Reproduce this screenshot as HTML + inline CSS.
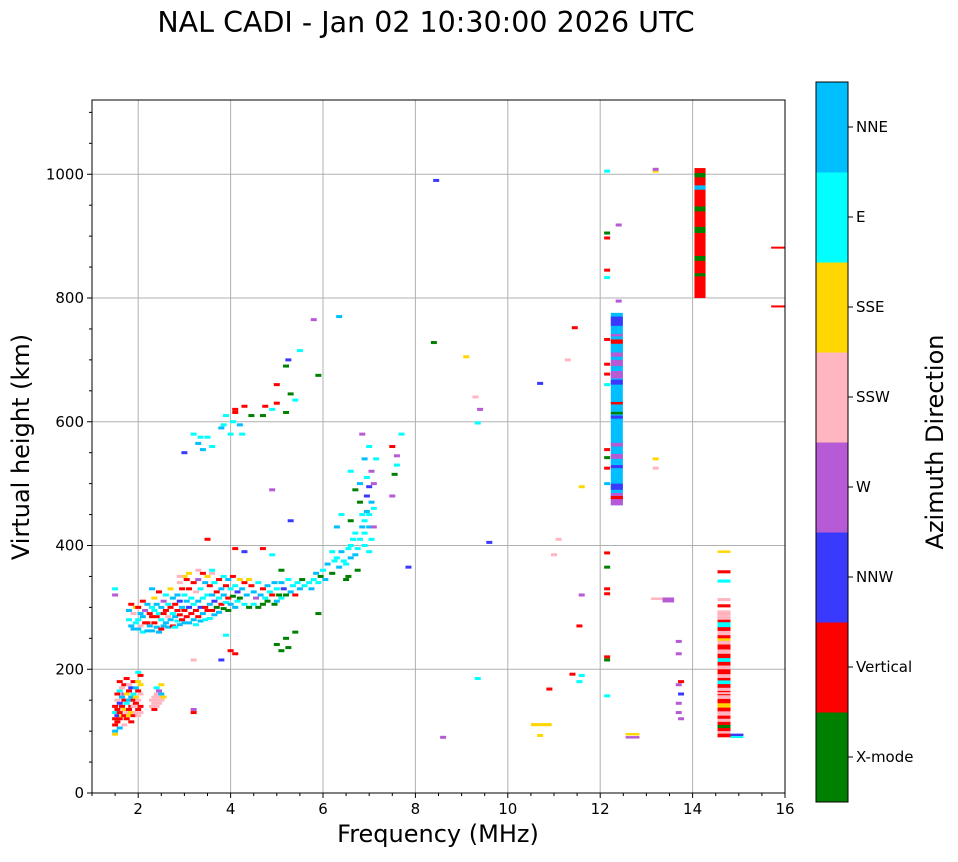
<!DOCTYPE html>
<html><head><meta charset="utf-8"><style>
body{margin:0;background:#fff;}
svg text{font-family:"DejaVu Sans","Liberation Sans",sans-serif;}
</style></head><body>
<svg id="chart" width="958" height="857" xmlns="http://www.w3.org/2000/svg">
<text x="426" y="32" font-size="28.5" text-anchor="middle">NAL CADI - Jan 02 10:30:00 2026 UTC</text>
<g id="grid"></g>
<g id="marks"></g>
<g id="axes"></g>
<g id="cbar"></g>
</svg>
<script>
const directions=["X-mode","Vertical","NNW","W","SSW","SSE","E","NNE"];
const dirColors=["#008000","#ff0000","#3a3aff","#b65ad6","#ffb6c1","#ffd700","#00ffff","#00bfff"];
const xTicks=[2,4,6,8,10,12,14,16];
const yTicks=[0,200,400,600,800,1000];
// echoes: [freq MHz, height km, direction index]
const echoes=[
[1.5,95,5],[1.5,100,7],[1.5,110,1],[1.5,120,1],[1.5,130,6],[1.5,140,1],
[1.55,115,1],[1.55,125,2],[1.55,135,1],[1.55,150,4],[1.55,160,1],
[1.6,105,7],[1.6,120,1],[1.6,130,1],[1.6,145,2],[1.6,165,6],[1.6,180,1],
[1.65,125,5],[1.65,140,1],[1.65,155,7],[1.65,170,4],
[1.7,110,4],[1.7,125,1],[1.7,135,5],[1.7,150,1],[1.7,160,3],[1.7,175,1],
[1.75,120,1],[1.75,130,4],[1.75,145,6],[1.75,160,5],[1.75,185,1],
[1.8,125,5],[1.8,135,1],[1.8,150,7],[1.8,165,1],[1.8,175,4],
[1.85,115,1],[1.85,130,5],[1.85,140,1],[1.85,155,7],[1.85,170,2],
[1.9,125,1],[1.9,140,4],[1.9,150,1],[1.9,160,6],[1.9,180,1],
[1.95,130,4],[1.95,145,1],[1.95,155,5],[1.95,170,7],
[2.0,125,4],[2.0,135,1],[2.0,150,4],[2.0,165,1],[2.0,180,5],[2.0,195,6],
[2.05,130,4],[2.05,140,1],[2.05,160,4],[2.05,175,5],[2.05,190,1],
[2.3,140,4],[2.3,150,4],[2.35,135,1],[2.35,145,4],[2.35,155,4],[2.4,140,4],[2.4,150,4],[2.4,160,4],[2.4,170,6],[2.45,145,4],[2.45,155,4],[2.45,165,3],[2.5,150,4],[2.5,160,7],[2.5,175,5],[2.55,155,5],[3.2,130,1],[3.2,135,3],
[1.8,295,7],[1.8,280,6],[1.85,270,7],[1.85,305,1],[1.9,290,4],[1.9,265,7],[1.95,300,5],[1.95,275,6],
[2.0,300,1],[2.0,280,6],[2.0,265,7],[2.05,290,7],[2.05,270,4],[2.1,310,1],[2.1,285,7],[2.1,260,6],[2.15,295,3],[2.15,275,1],[2.2,305,7],[2.2,275,1],[2.2,262,7],
[2.25,290,1],[2.25,270,7],[2.3,300,6],[2.3,285,1],[2.3,262,7],[2.35,315,5],[2.35,295,6],[2.35,275,1],[2.4,305,7],[2.4,285,1],[2.4,268,7],[2.45,325,1],[2.45,290,6],[2.45,260,7],
[2.5,300,7],[2.5,280,6],[2.5,265,1],[2.55,310,3],[2.55,290,1],[2.55,270,7],[2.6,320,6],[2.6,295,1],[2.6,275,7],[2.65,305,6],[2.65,285,4],[2.65,268,7],[2.7,330,5],[2.7,300,1],[2.7,280,7],
[2.75,315,7],[2.75,290,6],[2.75,270,1],[2.8,305,1],[2.8,285,7],[2.8,268,6],[2.85,320,7],[2.85,295,1],[2.85,278,6],[2.9,340,4],[2.9,310,2],[2.9,288,1],[2.9,272,7],[2.95,330,1],[2.95,300,7],[2.95,280,1],
[3.0,350,5],[3.0,320,6],[3.0,295,1],[3.0,275,7],[3.05,345,1],[3.05,310,7],[3.05,285,1],[3.1,330,1],[3.1,300,2],[3.1,275,7],[3.15,315,6],[3.15,290,1],[3.2,340,1],[3.2,305,6],[3.2,280,7],
[3.25,325,4],[3.25,295,1],[3.25,272,6],[3.3,345,3],[3.3,310,7],[3.3,285,1],[3.35,330,6],[3.35,300,2],[3.35,278,7],[3.4,355,1],[3.4,315,6],[3.4,290,7],[3.45,340,7],[3.45,300,1],[3.45,280,6],
[3.5,350,5],[3.5,320,6],[3.5,295,1],[3.55,335,1],[3.55,305,7],[3.55,282,6],[3.6,355,4],[3.6,320,7],[3.6,295,1],[3.65,340,6],[3.65,310,2],[3.65,288,7],[3.7,325,1],[3.7,300,0],
[3.75,345,1],[3.75,315,6],[3.75,292,7],[3.8,330,7],[3.8,305,1],[3.85,350,6],[3.85,320,7],[3.85,298,0],[3.9,335,1],[3.9,308,6],[3.95,345,7],[3.95,315,1],[3.95,295,0],
[4.0,330,6],[4.0,305,7],[4.05,350,1],[4.05,318,0],[4.1,335,6],[4.1,300,7],[4.15,325,2],[4.15,310,6],[4.2,345,5],[4.2,315,0],[4.25,330,7],[4.3,340,1],[4.3,305,6],[4.35,320,7],[4.4,345,6],[4.4,300,0],
[4.45,335,1],[4.5,325,7],[4.5,305,6],[4.55,315,3],[4.6,340,6],[4.6,300,0],[4.65,320,7],[4.7,330,1],[4.7,305,0],[4.75,315,6],[4.8,335,7],[4.8,310,0],[4.85,325,6],[4.9,320,1],[4.95,340,7],[4.95,305,0],
[5.0,330,6],[5.0,310,7],[5.05,320,0],[5.1,340,7],[5.1,315,6],[5.15,330,2],[5.2,320,0],[5.25,345,6],[5.3,325,7],[5.35,335,6],[5.4,320,1],[5.45,340,6],[5.5,330,7],[5.55,345,0],[5.6,335,6],
[5.7,340,6],[5.75,330,7],[5.8,345,6],[5.85,355,7],[5.9,340,6],[5.95,350,0],
[3.5,410,1],[3.1,355,5],[3.3,360,4],[3.6,360,6],[4.1,395,1],[4.3,390,2],[4.4,345,5],[4.7,395,1],[4.9,385,6],[5.1,360,0],[5.0,240,0],[5.2,250,0],[5.4,260,0],[5.25,235,0],[5.1,230,0],[4.0,230,1],[4.1,225,1],[3.9,255,6],[3.2,215,4],[3.8,215,2],[2.3,330,7],[2.9,350,4],[4.9,490,3],[5.3,440,2],[1.5,330,6],[1.5,320,3],
[6.0,360,6],[6.05,345,7],[6.1,370,7],[6.2,355,0],[6.25,375,6],[6.3,380,6],[6.35,365,7],[6.4,390,7],[6.45,375,6],[6.5,345,0],[6.55,395,6],[6.6,400,6],[6.6,380,7],[6.65,410,6],[6.7,385,7],[6.7,420,6],[6.75,395,6],[6.8,410,6],[6.85,430,7],[6.9,420,6],[6.9,440,6],[6.95,455,7],[7.0,430,7],[7.0,450,6],[7.05,470,7],[7.0,495,2],[6.95,510,6],[6.9,540,7],[7.0,560,6],[6.85,580,3],[7.1,500,3],[7.15,540,6],[6.8,470,0],[6.6,440,0],[6.4,450,6],[6.6,520,6],[6.7,490,0],[6.3,430,7],[6.9,400,6],[7.0,390,6],[6.5,370,6],[6.2,390,6],[5.9,290,0],[6.8,500,7],[7.05,520,3],[7.1,460,6],[6.95,480,2],[6.85,450,6],[7.05,410,6],[7.1,430,3],[6.75,360,0],[6.55,350,0],[7.5,560,1],[7.6,530,6],[7.7,580,6],[7.85,365,2],[7.5,480,3],[7.6,545,3],[7.55,515,0],
[3.2,580,6],[3.3,565,7],[3.35,575,6],[3.5,575,6],[3.6,560,6],[3.8,590,7],[3.85,595,6],[3.9,610,6],[4.0,580,6],[4.05,600,6],[4.1,615,1],[4.2,595,7],[4.25,580,6],[4.3,625,1],[4.45,610,0],[4.7,610,0],[4.75,625,1],[4.9,620,6],[5.0,630,1],[5.2,615,0],[5.3,645,0],[5.4,635,6],[5.0,660,1],[5.2,690,0],[5.25,700,2],[5.5,715,6],[5.8,765,3],[6.35,770,7],[5.9,675,0],[3.0,550,2],[3.4,555,7],[4.1,620,1],
[8.4,728,0],[8.45,990,2],[8.6,90,3],[9.1,705,5],[9.3,640,4],[9.4,620,3],[9.35,598,6],[9.35,185,6],[9.6,405,2],[10.7,93,5],[10.7,662,2],[10.9,168,1],[11.1,410,4],[11.0,385,4],[11.3,700,4],[11.4,192,1],[11.45,752,1],[11.6,495,5],[11.6,320,3],[11.55,270,1],[11.6,190,6],[11.55,180,6],[13.2,1005,5],[13.2,1008,3],[13.2,540,5],[13.2,525,4],[13.7,245,3],[13.7,225,3],[13.75,180,1],[13.7,175,3],[13.75,160,2],[13.7,145,3],[13.7,130,3],[13.75,120,3],
[12.15,1005,6],[12.15,905,0],[12.15,897,1],[12.15,845,1],[12.15,833,6],[12.15,733,1],[12.15,693,1],[12.15,677,1],[12.15,660,6],[12.15,555,1],[12.15,542,0],[12.15,525,1],[12.15,500,7],[12.15,388,1],[12.15,365,0],[12.15,330,1],[12.15,322,1],[12.15,220,1],[12.15,215,0],[12.15,157,6],[12.4,918,3],[12.4,795,3]
];
// column segments: [freq0, freq1, h0, h1, direction index]
const columns=[
[12.23,12.49,465,776,7],
[12.23,12.49,755,770,2],[12.23,12.49,738,742,3],[12.23,12.49,726,733,1],[12.23,12.49,712,725,7],[12.23,12.49,705,712,3],
[12.23,12.49,690,700,3],[12.23,12.49,670,682,3],[12.23,12.49,660,668,2],[12.23,12.49,628,632,1],[12.23,12.49,612,616,0],[12.23,12.49,605,610,2],
[12.23,12.49,560,566,3],[12.23,12.49,540,548,3],[12.23,12.49,525,530,2],[12.23,12.49,490,500,2],[12.23,12.49,465,485,3],[12.23,12.49,475,480,1],
[14.04,14.28,800,1010,1],[14.04,14.28,940,948,0],[14.04,14.28,905,915,0],[14.04,14.28,860,868,0],[14.04,14.28,995,1002,0],[14.04,14.28,975,982,7],[14.04,14.28,835,840,0],
[14.54,14.82,388,392,5],[14.54,14.82,355,360,1],[14.54,14.82,340,345,6],[14.54,14.82,310,315,4],[14.54,14.82,300,305,1],[14.54,14.82,90,295,1],
[14.54,14.82,280,290,4],[14.54,14.82,268,276,6],[14.54,14.82,255,262,4],[14.54,14.82,240,248,4],[14.54,14.82,225,232,4],[14.54,14.82,212,218,6],[14.54,14.82,200,206,4],[14.54,14.82,186,192,4],[14.54,14.82,165,170,4],[14.54,14.82,152,158,4],[14.54,14.82,138,145,5],[14.54,14.82,125,132,4],[14.54,14.82,105,110,0],[14.54,14.82,96,100,4],
[14.54,14.82,290,295,4],[14.54,14.82,246,250,5],[14.54,14.82,176,182,6],[14.54,14.82,160,163,4],[14.54,14.82,115,120,4],
[14.82,15.1,92,96,2],[14.82,15.1,90,92,6],[15.7,16,880,883,1],[15.7,16,785,788,1],
[10.5,10.95,108,113,5],[13.1,13.35,312,316,4],[13.35,13.6,308,316,3],[12.55,12.85,93,97,5],[12.55,12.85,88,92,3]
];
const X0=92,X1=785,Y0=793,Y1=100,FMIN=1,FMAX=16,HMIN=0,HMAX=1120;
const xs=f=>X0+(f-FMIN)/(FMAX-FMIN)*(X1-X0);
const ys=h=>Y0-(h-HMIN)/(HMAX-HMIN)*(Y0-Y1);
const NS="http://www.w3.org/2000/svg";
function mk(tag,attrs,parent){const e=document.createElementNS(NS,tag);for(const k in attrs)e.setAttribute(k,attrs[k]);parent.appendChild(e);return e;}
const grid=document.getElementById('grid'),marks=document.getElementById('marks'),axes=document.getElementById('axes'),cbar=document.getElementById('cbar');
xTicks.forEach(t=>{if(t<FMAX){const l=mk('line',{x1:xs(t),x2:xs(t),y1:Y1,y2:Y0,stroke:'#b0b0b0','stroke-width':1},grid);

}});
yTicks.forEach(t=>{if(t>0){const l=mk('line',{x1:X0,x2:X1,y1:ys(t),y2:ys(t),stroke:'#b0b0b0','stroke-width':1},grid);

}});
columns.forEach(c=>{const r=mk('rect',{x:xs(c[0]),y:ys(c[3]),width:xs(c[1])-xs(c[0]),height:Math.max(2,ys(c[2])-ys(c[3])),fill:dirColors[c[4]]},marks);

});
echoes.forEach(p=>{const r=mk('rect',{x:xs(p[0])-3,y:ys(p[1])-1.5,width:6,height:3,fill:dirColors[p[2]]},marks);

});
const frame=mk('rect',{x:X0,y:Y1,width:X1-X0,height:Y0-Y1,fill:'none',stroke:'#000','stroke-width':1},axes);


xTicks.forEach(t=>{mk('line',{x1:xs(t),x2:xs(t),y1:Y0,y2:Y0+5,stroke:'#000'},axes);
const tx=mk('text',{x:xs(t),y:Y0+21,'font-size':15,'text-anchor':'middle'},axes);tx.textContent=t;

});
for(let m=1;m<16;m+=0.5){if(m%2!==0)mk('line',{x1:xs(m),x2:xs(m),y1:Y0,y2:Y0+3,stroke:'#000'},axes);}
yTicks.forEach(t=>{mk('line',{x1:X0-5,x2:X0,y1:ys(t),y2:ys(t),stroke:'#000'},axes);
const tx=mk('text',{x:X0-8,y:ys(t)+5,'font-size':15,'text-anchor':'end'},axes);tx.textContent=t;

});
for(let m=50;m<1120;m+=50){if(m%200!==0)mk('line',{x1:X0-3,x2:X0,y1:ys(m),y2:ys(m),stroke:'#000'},axes);}
const xl=mk('text',{x:438,y:842,'font-size':24,'text-anchor':'middle'},axes);xl.textContent='Frequency (MHz)';


const yl=mk('text',{x:0,y:0,'font-size':24,'text-anchor':'middle',transform:'translate(29,447) rotate(-90)'},axes);yl.textContent='Virtual height (km)';


const CB0=82,CB1=802,CX=816,CW=32,seg=(CB1-CB0)/directions.length;
directions.forEach((d,i)=>{const yy=CB1-(i+1)*seg;
const r=mk('rect',{x:CX,y:yy,width:CW,height:seg+0.5,fill:dirColors[i]},cbar);


mk('line',{x1:CX+CW,x2:CX+CW+5,y1:yy+seg/2,y2:yy+seg/2,stroke:'#000'},cbar);
const t=mk('text',{x:CX+CW+8,y:yy+seg/2+5,'font-size':15},cbar);t.textContent=d;

});
const cf=mk('rect',{x:CX,y:CB0,width:CW,height:CB1-CB0,fill:'none',stroke:'#000'},cbar);


const ct=mk('text',{x:0,y:0,'font-size':24,'text-anchor':'middle',transform:'translate(943,442) rotate(-90)'},cbar);ct.textContent='Azimuth Direction';


</script>
</body></html>
